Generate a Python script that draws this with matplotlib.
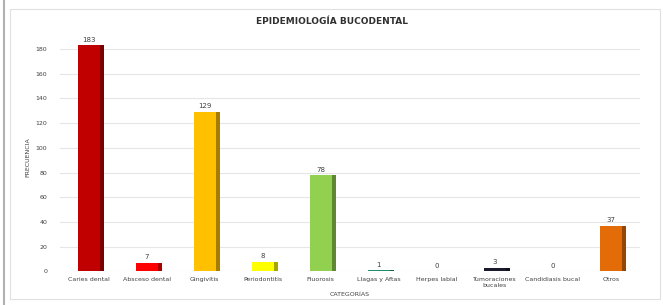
import matplotlib
matplotlib.use("Agg")
import matplotlib.pyplot as plt
import matplotlib.colors as mcolors

categories = ["Caries dental", "Absceso dental", "Gingivitis", "Periodontitis", "Fluorosis",
              "Llagas y Aftas", "Herpes labial", "Tumoraciones\nbucales", "Candidiasis bucal", "Otros"]
values = [183, 7, 129, 8, 78, 1, 0, 3, 0, 37]
colors = ["#C00000", "#FF0000", "#FFC000", "#FFFF00", "#92D050",
          "#1E8C6E", "#4BACC6", "#1A1A2E", "#6464A8", "#E36C09"]
yticks = list(range(0, 181, 20))

fig = plt.figure(figsize=(6.63, 3.05), dpi=100)
fig.patch.set_facecolor("white")
ax = fig.add_axes([0.09, 0.11, 0.875, 0.75])

x = list(range(len(categories)))
w = 0.38
for xi, v, c in zip(x, values, colors):
    dark = [max(0, ch * 0.65) for ch in mcolors.to_rgb(c)]
    ax.bar(xi + w / 2 + 0.035, v, width=0.07, color=dark, zorder=2)
    ax.bar(xi, v, width=w, color=c, zorder=3)
    ax.text(xi, v + 2, str(v), ha="center", va="bottom", fontsize=5, color="#404040", zorder=4)

ax.set_xlim(-0.5, 9.5)
ax.set_ylim(0, 185)
ax.set_yticks(yticks)
ax.set_xticks(x)
ax.set_xticklabels(categories, fontsize=4.5, color="#404040")
ax.tick_params(axis="y", labelsize=4.5, colors="#404040", length=0, pad=9)
ax.tick_params(axis="x", length=0, pad=4)
ax.grid(axis="y", color="#E6E6E6", linewidth=0.8, zorder=0)
for s in ax.spines.values():
    s.set_visible(False)
ax.set_ylabel("FRECUENCIA", fontsize=4.5, color="#404040")
ax.yaxis.set_label_coords(-0.05, 0.5)
ax.set_xlabel("CATEGORÍAS", fontsize=4.5, color="#404040")
ax.xaxis.set_label_coords(0.5, -0.09)
fig.suptitle("EPIDEMIOLOGÍA BUCODENTAL", fontsize=6.5, fontweight="bold", color="#303030", y=0.945)

fig.add_artist(plt.Rectangle((0.015, 0.02), 0.98, 0.95, transform=fig.transFigure,
                             fill=False, edgecolor="#E0E0E0", linewidth=0.8))
fig.add_artist(plt.Line2D([0.006, 0.006], [0, 1], transform=fig.transFigure, color="#B0B0B0", linewidth=1.5))
fig.savefig("out.png", dpi=100)
